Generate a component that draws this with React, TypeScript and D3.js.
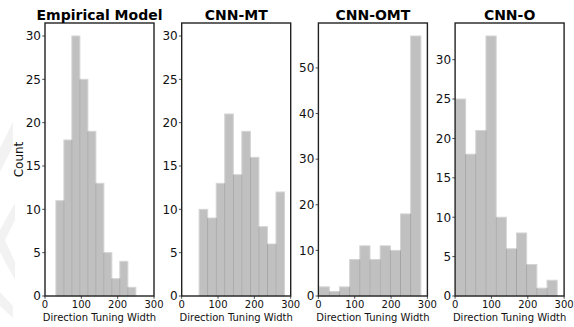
import React from "react";
import * as d3 from "d3";

// Histogram counts per panel (10 bins each)
const titles = ["Empirical Model", "CNN-MT", "CNN-OMT", "CNN-O"];
const empiricalCounts = [11, 18, 30, 25, 19, 13, 5, 2, 4, 1];
const cnnMtCounts = [10, 9, 13, 21, 14, 19, 16, 8, 6, 12];
const cnnOmtCounts = [2, 1, 2, 8, 11, 8, 11, 10, 18, 57];
const cnnOCounts = [25, 18, 21, 33, 10, 6, 8, 4, 1, 2];
const counts = [empiricalCounts, cnnMtCounts, cnnOmtCounts, cnnOCounts];

// Range of tuning widths covered by each histogram
const binRanges: [number, number][] = [
  [30, 250],
  [48, 283],
  [2, 282],
  [1, 281],
];

const yMaxes = [31.5, 31.5, 59.85, 34.65];
const yTickSets = [
  [0, 5, 10, 15, 20, 25, 30],
  [0, 5, 10, 15, 20, 25, 30],
  [0, 10, 20, 30, 40, 50],
  [0, 5, 10, 15, 20, 25, 30],
];
const xTicks = [0, 100, 200, 300];

const W = 574;
const H = 327;
const panelLeft0 = 45;
const panelStep = 136.7;
const panelW = 109;
const top = 23;
const bottom = 296;
const font = "DejaVu Sans, sans-serif";

function Panel({ idx }: { idx: number }) {
  const left = panelLeft0 + idx * panelStep;
  const x = d3.scaleLinear().domain([0, 300]).range([left, left + panelW]);
  const y = d3.scaleLinear().domain([0, yMaxes[idx]]).range([bottom, top]);
  const data = counts[idx];
  const [lo, hi] = binRanges[idx];
  const edges = d3.range(data.length + 1).map((i) => lo + ((hi - lo) * i) / data.length);

  return (
    <g>
      {data.map((c, i) => (
        <rect
          key={"b" + i}
          x={x(edges[i])}
          y={y(c)}
          width={x(edges[i + 1]) - x(edges[i])}
          height={bottom - y(c)}
          fill="#c0c0c0"
          stroke="#d4d4d4"
          strokeWidth={1}
        />
      ))}
      {data.slice(1).map((c, i) => (
        <line
          key={"s" + i}
          x1={x(edges[i + 1])}
          x2={x(edges[i + 1])}
          y1={bottom}
          y2={y(Math.min(c, data[i]))}
          stroke="#a4a4a4"
          strokeWidth={1}
        />
      ))}
      <rect
        x={left}
        y={top}
        width={panelW}
        height={bottom - top}
        fill="none"
        stroke="#222"
        strokeWidth={1.4}
      />
      {yTickSets[idx].map((t) => (
        <g key={"y" + t}>
          <line x1={left - 2.8} x2={left} y1={y(t)} y2={y(t)} stroke="#222" strokeWidth={0.8} />
          <text
            x={left - 4}
            y={y(t)}
            dy="0.36em"
            textAnchor="end"
            fontFamily={font}
            fontSize={12}
            fill="#111"
          >
            {t}
          </text>
        </g>
      ))}
      {xTicks.map((t) => (
        <g key={"x" + t}>
          <line x1={x(t)} x2={x(t)} y1={bottom} y2={bottom + 2.8} stroke="#222" strokeWidth={0.8} />
          <text
            x={x(t)}
            y={307.5}
            textAnchor="middle"
            fontFamily={font}
            fontSize={10}
            fill="#111"
          >
            {t}
          </text>
        </g>
      ))}
      <text
        x={left + panelW / 2}
        y={321}
        textAnchor="middle"
        fontFamily={font}
        fontSize={10}
        fill="#111"
      >
        Direction Tuning Width
      </text>
      <text
        x={left + panelW / 2}
        y={19.5}
        textAnchor="middle"
        fontFamily={font}
        fontSize={14}
        fontWeight="bold"
        fill="#000"
      >
        {titles[idx]}
      </text>
    </g>
  );
}

export default function App() {
  return (
    <svg
      width={W}
      height={H}
      viewBox={`0 0 ${W} ${H}`}
      style={{ position: "absolute", left: 0, top: 0, background: "#fff" }}
    >
      <rect width={W} height={H} fill="#fff" />
      {/* faint background marks at the left edge */}
      <g fill="#f2f2f2">
        <polygon points="0,148 13,122 13,146 0,172" />
        <polygon points="15,203 15,220 5,240 15,262 15,280 0,252 0,230" />
        <polygon points="0,292 13,306 13,318 0,306" />
      </g>
      {titles.map((_, i) => (
        <Panel key={i} idx={i} />
      ))}
      <text
        transform={`translate(23,159.5) rotate(-90)`}
        textAnchor="middle"
        fontFamily={font}
        fontSize={12}
        fill="#111"
      >
        Count
      </text>
    </svg>
  );
}
